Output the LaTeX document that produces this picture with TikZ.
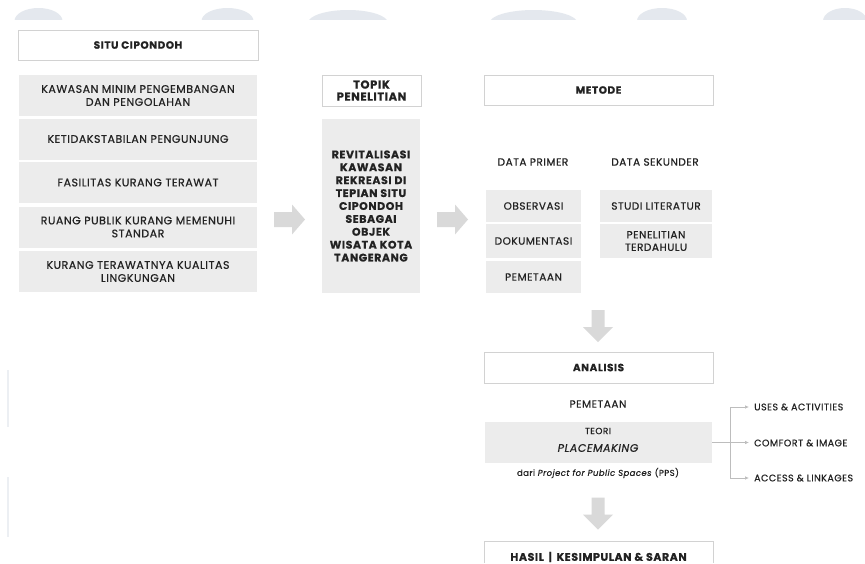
\documentclass[tikz,border=0pt]{standalone}
\usepackage{fontspec}
\setmainfont{Poppins}
\newfontfamily\medfont{Poppins}[FakeBold=0.6,LetterSpace=5]
\newfontfamily\hfont{Poppins}[LetterSpace=5,BoldFeatures={FakeBold=0.5}]
\usetikzlibrary{arrows.meta}
\definecolor{boxgray}{HTML}{ECECEC}
\definecolor{edgegray}{HTML}{D2D2D2}
\definecolor{arrowgray}{HTML}{D9D9D9}
\definecolor{txt}{HTML}{222222}
\definecolor{wm}{HTML}{E4E8EE}
\definecolor{linkgray}{HTML}{BDBDBD}
\begin{document}
\begin{tikzpicture}[x=1pt,y=-1pt,
  headbox/.style={draw=edgegray,line width=0.9pt,fill=white,inner sep=0pt,font=\hfont\bfseries\fontsize{10.5}{12.5}\selectfont,text=txt,align=center},
  itembox/.style={fill=boxgray,inner sep=0pt,font=\medfont\fontsize{11}{13}\selectfont,text=txt,align=center},
  plain/.style={inner sep=0pt,font=\medfont\fontsize{10.5}{12}\selectfont,text=txt,align=center},
  link/.style={draw=linkgray,line width=0.7pt},
  linktip/.style={link,-{Latex[length=4pt,width=3.5pt]},shorten >=5pt},
  sidelabel/.style={anchor=west,inner sep=0pt,font=\medfont\fontsize{9.5}{11}\selectfont,text=txt},
  rarrow/.pic={\fill[arrowgray] (-15.5,-7.5) -- (2.5,-7.5) -- (2.5,-15) -- (15.5,0) -- (2.5,15) -- (2.5,7.5) -- (-15.5,7.5) -- cycle;},
  darrow/.pic={\fill[arrowgray] (-6.5,-16) -- (6.5,-16) -- (6.5,1) -- (15,1) -- (0,16) -- (-15,1) -- (-6.5,1) -- cycle;}]
\useasboundingbox (0,0) rectangle (865,563);
\fill[white] (0,0) rectangle (865,563);
% watermark
\begin{scope}
\clip (0,0) rectangle (865,19);
\fill[wm] (38.5,21) ellipse [x radius=24, y radius=13];
\fill[wm] (227.5,21) ellipse [x radius=26, y radius=13];
\fill[wm] (348,23) ellipse [x radius=40, y radius=13];
\fill[wm] (533.5,23) ellipse [x radius=44, y radius=13];
\fill[wm] (662,21) ellipse [x radius=25, y radius=13];
\fill[wm] (845,21) ellipse [x radius=22, y radius=13];
\end{scope}
\draw[wm!70,line width=1.5pt] (8,370) -- (8,427);
\draw[wm!70,line width=1.5pt] (8,477) -- (8,537);

% left column
\node[headbox,minimum width=240pt,minimum height=30pt] (situ) at (138,45) {SITU CIPONDOH};
\node[itembox,minimum width=238pt,minimum height=41pt] (k1) at (138,95.5) {KAWASAN MINIM PENGEMBANGAN\\DAN PENGOLAHAN};
\node[itembox,minimum width=238pt,minimum height=41pt] (k2) at (138,139) {KETIDAKSTABILAN PENGUNJUNG};
\node[itembox,minimum width=238pt,minimum height=41pt] (k3) at (138,182.5) {FASILITAS KURANG TERAWAT};
\node[itembox,minimum width=238pt,minimum height=41pt] (k4) at (138,227) {RUANG PUBLIK KURANG MEMENUHI\\STANDAR};
\node[itembox,minimum width=238pt,minimum height=41pt] (k5) at (138,271.5) {KURANG TERAWATNYA KUALITAS\\LINGKUNGAN};

\pic (ar1) at (289.5,219.5) {rarrow};

% topic column
\node[headbox,minimum width=99pt,minimum height=31pt,font=\hfont\bfseries\fontsize{11.5}{12}\selectfont] (topik) at (371.5,90.5) {TOPIK\\PENELITIAN};
\node[itembox,minimum width=98pt,minimum height=174pt,font=\hfont\bfseries\fontsize{11}{12.9}\selectfont] (topic) at (371,206) {REVITALISASI\\KAWASAN\\REKREASI DI\\TEPIAN SITU\\CIPONDOH\\SEBAGAI\\OBJEK\\WISATA KOTA\\TANGERANG};

\pic (ar2) at (452.5,219.5) {rarrow};

% method column
\node[headbox,minimum width=229pt,minimum height=30pt] (metode) at (598.5,90) {METODE};
\node[plain] (primer) at (533,162) {DATA PRIMER};
\node[plain] (sekunder) at (655,162) {DATA SEKUNDER};
\node[itembox,minimum width=95pt,minimum height=32pt,font=\medfont\fontsize{10.5}{13}\selectfont] (obs) at (533.5,206) {OBSERVASI};
\node[itembox,minimum width=95pt,minimum height=34pt,font=\medfont\fontsize{10.5}{13}\selectfont] (dok) at (533.5,241) {DOKUMENTASI};
\node[itembox,minimum width=95pt,minimum height=32pt,font=\medfont\fontsize{10.5}{13}\selectfont] (pem) at (533.5,277) {PEMETAAN};
\node[itembox,minimum width=112pt,minimum height=32pt,font=\medfont\fontsize{10.5}{13}\selectfont] (studi) at (656,206) {STUDI LITERATUR};
\node[itembox,minimum width=112pt,minimum height=34pt,font=\medfont\fontsize{10.5}{12.5}\selectfont] (pen) at (656,241) {PENELITIAN\\TERDAHULU};

\pic (ar3) at (598,326) {darrow};

% analysis
\node[headbox,minimum width=229pt,minimum height=31pt] (analisis) at (598.5,367.5) {ANALISIS};
\node[plain] (pemetaan) at (598,404) {PEMETAAN};
\node[itembox,minimum width=227pt,minimum height=41pt] (teori) at (598.5,442.5) {};
\node[plain,font=\medfont\fontsize{9}{10}\selectfont] (teorilbl) at (598,431) {TEORI};
\node[plain,font=\medfont\itshape\fontsize{11}{12}\selectfont] (place) at (598,448) {PLACEMAKING};
\node[plain,font=\medfont\fontsize{8.5}{9}\selectfont] (dari) at (598,473) {dari \textit{Project for Public Spaces} (PPS)};

\node[sidelabel] (uses) at (754,407) {USES \& ACTIVITIES};
\node[sidelabel] (comfort) at (754,443) {COMFORT \& IMAGE};
\node[sidelabel] (access) at (754,478) {ACCESS \& LINKAGES};
\coordinate (br) at (730,442.5);
\draw[link] (teori.east) -- (br);
\draw[linktip] (br) |- (uses.west);
\draw[linktip] (br) -- (comfort.west |- br);
\draw[linktip] (br) |- (access.west);

\pic (ar4) at (598,513.5) {darrow};

% result
\draw[draw=edgegray,line width=0.9pt] (484,563) |- (713,541) -- (713,563);
\node[plain,font=\hfont\bfseries\fontsize{11}{11}\selectfont] (hasil) at (598.5,557) {HASIL \,|\, KESIMPULAN \& SARAN};
\end{tikzpicture}
\end{document}
